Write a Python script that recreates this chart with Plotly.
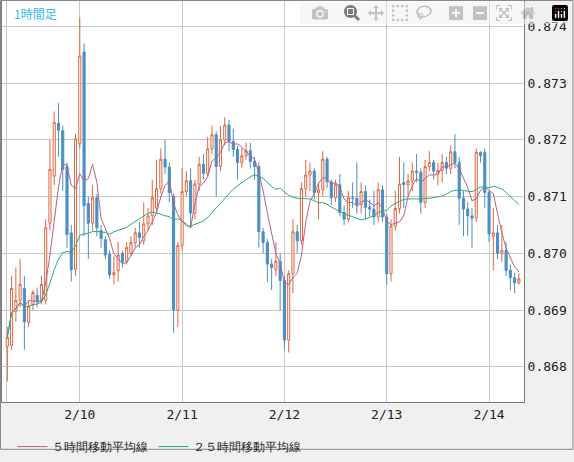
import plotly.graph_objects as go
import pandas as pd

opens = [0.86836,0.86838,0.86897,0.86917,0.86938,0.86878,0.86909,0.86926,0.86917,0.86917,
0.87053,0.87136,0.87229,0.87216,0.87153,0.87036,0.86972,0.87193,0.87355,0.87088,
0.87053,0.87098,0.87040,0.87024,0.86998,0.86962,0.86969,0.87000,0.86985,0.87000,
0.87019,0.87036,0.87022,0.87052,0.87066,0.87080,0.87114,0.87166,0.87152,0.87100,
0.86900,0.87014,0.87109,0.87128,0.87071,0.87122,0.87157,0.87141,0.87184,0.87209,
0.87153,0.87200,0.87226,0.87197,0.87183,0.87160,0.87172,0.87181,0.87162,0.87153,
0.87038,0.87019,0.86981,0.86971,0.86986,0.86952,0.86847,0.86964,0.87038,0.87022,
0.87114,0.87138,0.87145,0.87107,0.87112,0.87166,0.87126,0.87098,0.87121,0.87072,
0.87060,0.87098,0.87097,0.87086,0.87109,0.87081,0.87078,0.87064,0.87112,0.87064,
0.86964,0.87048,0.87079,0.87125,0.87121,0.87128,0.87145,0.87143,0.87090,0.87153,
0.87160,0.87140,0.87146,0.87160,0.87150,0.87179,0.87160,0.87097,0.87078,0.87066,
0.87062,0.87178,0.87178,0.87107,0.87030,0.87036,0.87000,0.87005,0.86970,0.86957,
0.86948]
closes = [0.86852,0.86938,0.86917,0.86945,0.86879,0.86907,0.86931,0.86914,0.86945,0.87045,
0.87148,0.87231,0.87217,0.87148,0.87033,0.86971,0.87202,0.87348,0.87084,0.87053,
0.87098,0.87045,0.87026,0.86997,0.86962,0.86966,0.86997,0.86985,0.87010,0.87019,
0.87036,0.87028,0.87052,0.87066,0.87098,0.87114,0.87166,0.87152,0.87107,0.86900,
0.87014,0.87109,0.87128,0.87071,0.87122,0.87157,0.87141,0.87184,0.87209,0.87153,
0.87200,0.87226,0.87197,0.87183,0.87160,0.87172,0.87181,0.87162,0.87153,0.87038,
0.87019,0.86981,0.86975,0.86986,0.86952,0.86847,0.86964,0.87038,0.87022,0.87114,
0.87138,0.87145,0.87107,0.87112,0.87166,0.87126,0.87098,0.87121,0.87072,0.87060,
0.87098,0.87097,0.87086,0.87109,0.87081,0.87078,0.87064,0.87112,0.87064,0.86964,
0.87048,0.87079,0.87122,0.87121,0.87128,0.87145,0.87143,0.87090,0.87153,0.87160,
0.87145,0.87146,0.87160,0.87150,0.87179,0.87160,0.87097,0.87078,0.87066,0.87062,
0.87178,0.87172,0.87107,0.87034,0.87036,0.87000,0.87005,0.86970,0.86957,0.86948,
0.86955]
highs = [0.86870,0.86960,0.86975,0.86990,0.86960,0.86915,0.86935,0.86940,0.86960,0.87060,
0.87200,0.87250,0.87265,0.87225,0.87160,0.87050,0.87210,0.87416,0.87370,0.87100,
0.87120,0.87105,0.87050,0.87030,0.87005,0.86995,0.87020,0.87005,0.87020,0.87030,
0.87045,0.87055,0.87090,0.87080,0.87130,0.87165,0.87185,0.87200,0.87160,0.87105,
0.87020,0.87150,0.87145,0.87150,0.87130,0.87170,0.87175,0.87205,0.87225,0.87215,
0.87225,0.87240,0.87235,0.87220,0.87190,0.87185,0.87195,0.87195,0.87170,0.87160,
0.87045,0.87025,0.86990,0.87020,0.87000,0.86960,0.86970,0.87060,0.87050,0.87125,
0.87165,0.87160,0.87150,0.87125,0.87180,0.87170,0.87130,0.87130,0.87140,0.87085,
0.87110,0.87125,0.87160,0.87125,0.87120,0.87095,0.87110,0.87125,0.87120,0.87070,
0.87060,0.87110,0.87170,0.87160,0.87140,0.87160,0.87175,0.87150,0.87165,0.87180,
0.87165,0.87160,0.87175,0.87170,0.87190,0.87210,0.87170,0.87110,0.87090,0.87080,
0.87185,0.87180,0.87185,0.87110,0.87080,0.87050,0.87050,0.87020,0.86980,0.86965,
0.86965]
lows = [0.86774,0.86830,0.86880,0.86905,0.86830,0.86870,0.86900,0.86905,0.86910,0.86910,
0.87040,0.87120,0.87170,0.87110,0.87010,0.86950,0.86960,0.87185,0.87030,0.86990,
0.87040,0.87030,0.87010,0.86990,0.86955,0.86945,0.86950,0.86975,0.86980,0.86995,
0.87010,0.87010,0.87015,0.87040,0.87050,0.87070,0.87105,0.87140,0.87090,0.86860,
0.86870,0.87005,0.87100,0.87045,0.87060,0.87110,0.87130,0.87135,0.87175,0.87100,
0.87145,0.87190,0.87180,0.87170,0.87130,0.87150,0.87165,0.87150,0.87130,0.87010,
0.87000,0.86950,0.86935,0.86960,0.86900,0.86830,0.86825,0.86930,0.87000,0.87015,
0.87100,0.87110,0.87095,0.87060,0.87100,0.87115,0.87085,0.87090,0.87065,0.87050,
0.87055,0.87080,0.87070,0.87070,0.87060,0.87065,0.87050,0.87055,0.87055,0.86945,
0.86950,0.87040,0.87070,0.87080,0.87100,0.87110,0.87125,0.87070,0.87080,0.87145,
0.87130,0.87120,0.87125,0.87140,0.87140,0.87150,0.87050,0.87030,0.87030,0.87010,
0.87055,0.87160,0.87080,0.87020,0.86970,0.86990,0.86985,0.86960,0.86935,0.86930,
0.86945]
tick_pos = [-0.2, 17, 41, 65, 89, 113]
tick_labels = ["", "2/10", "2/11", "2/12", "2/13", "2/14"]
y_ticks = [0.868, 0.869, 0.870, 0.871, 0.872, 0.873, 0.874]

x = list(range(len(closes)))
s = pd.Series(closes)
ma5 = s.rolling(5, min_periods=1).mean()
ma25 = s.rolling(25, min_periods=1).mean()

fig = go.Figure()
fig.add_trace(go.Candlestick(x=x, open=opens, high=highs, low=lows, close=closes,
    increasing=dict(line=dict(color="#e0673f", width=1), fillcolor="#ffffff"),
    decreasing=dict(line=dict(color="#4a8ec4", width=1), fillcolor="#4a8ec4"),
    whiskerwidth=0, showlegend=False, hoverinfo="skip"))
fig.add_trace(go.Scatter(x=x, y=ma5, mode="lines", line=dict(color="#b5608a", width=1),
    name="５時間移動平均線"))
fig.add_trace(go.Scatter(x=x, y=ma25, mode="lines", line=dict(color="#2aaa72", width=1),
    name="２５時間移動平均線"))

fig.update_layout(
    width=574, height=462, margin=dict(l=2, r=50, t=1, b=50),
    paper_bgcolor="#f0f0f0", plot_bgcolor="#ffffff",
    font=dict(family="DejaVu Sans Mono", size=13, color="#222"),
    showlegend=True,
    legend=dict(orientation="h", x=0.02, y=-0.075, xanchor="left", yanchor="top",
                bgcolor="rgba(0,0,0,0)", font=dict(size=12), itemwidth=30),
    xaxis=dict(range=[-1.25, 121.2], tickvals=tick_pos, ticktext=tick_labels,
               showgrid=True, gridcolor="#c8c8c8", gridwidth=1, ticks="",
               showline=True, linecolor="#777777", mirror=True,
               rangeslider=dict(visible=False), zeroline=False),
    yaxis=dict(range=[0.867379, 0.874448], side="right", tickvals=y_ticks,
               tickformat=".3f", showgrid=True, gridcolor="#c8c8c8", ticks="",
               showline=True, linecolor="#777777", mirror=True, zeroline=False),
    annotations=[dict(text="1時間足", xref="paper", yref="paper", x=0.02, y=0.995,
                      xanchor="left", yanchor="top", showarrow=False,
                      font=dict(family="Noto Sans CJK JP", size=12, color="#33bbee"))],
    shapes=[dict(type="rect", xref="paper", yref="paper",
                 x0=-1.5/522, x1=1+49/522, y0=-48.5/411, y1=1+0.5/411,
                 line=dict(color="#888888", width=1), fillcolor="rgba(0,0,0,0)")],
)
fig.write_html("out.html",
               post_script="document.body.style.margin='0';document.body.style.padding='0';")
